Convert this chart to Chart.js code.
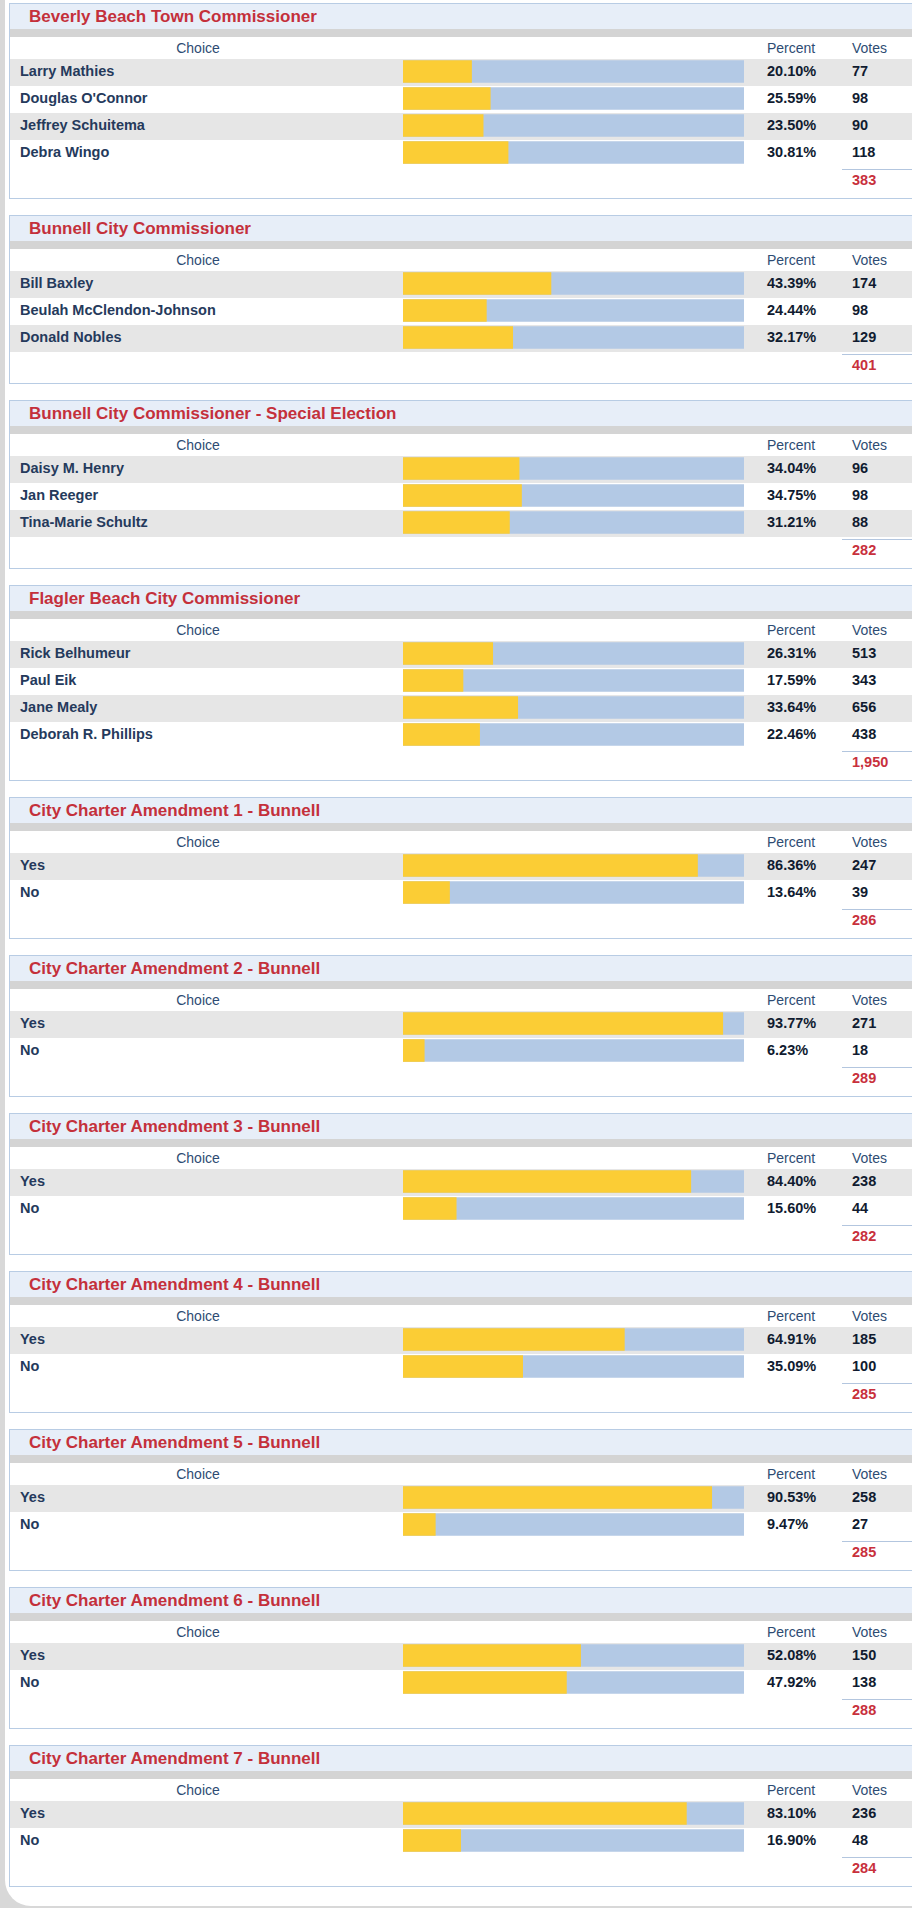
<!DOCTYPE html>
<html>
<head>
<meta charset="utf-8">
<script src="https://cdn.jsdelivr.net/npm/chart.js@4.4.1/dist/chart.umd.min.js"></script>
<style>
  html, body { margin:0; padding:0; }
  body { width:912px; height:1908px; overflow:hidden; position:relative; background:#d8d8d8;
         font-family:"Liberation Sans", Arial, sans-serif; }
  #page { position:absolute; left:5px; top:0; width:1000px; height:1906px; background:#fff;
          border-bottom-left-radius:26px; }
  .panel { position:absolute; left:9px; width:940px; border:1px solid #b8cce4; background:#fff; box-sizing:content-box; }
  .ttl { position:absolute; left:0; top:0; right:0; height:25px; background:#e7eef8;
         color:#c4303b; font-weight:bold; font-size:17px; line-height:25px; padding-left:19px; white-space:nowrap; }
  .band { position:absolute; left:0; top:25px; right:0; height:8px; background:#d4d4d4; }
  .hdr { position:absolute; left:0; top:33px; right:0; height:22px; color:#2e4c73; font-size:14px; line-height:22px; }
  .hdr span { position:absolute; top:0; }
  .row { position:absolute; left:0; right:0; height:27px; font-size:14.5px; font-weight:bold; line-height:24px; }
  .row span { position:absolute; top:0; white-space:nowrap; }
  .row.alt { background:#e6e6e6; }
  .lbl { left:10px; color:#253a5c; }
  .pct { left:757px; color:#101b30; }
  .vot { left:842px; color:#101b30; }
  .tline { position:absolute; left:832px; right:0; height:1px; background:#b3c6df; }
  .tot { position:absolute; left:842px; color:#c8303c; font-weight:bold; font-size:14.5px; line-height:20px; }
  canvas { position:absolute; }
</style>
</head>
<body>
<div id="page"></div>
<script>
const titles = [
  "Beverly Beach Town Commissioner",
  "Bunnell City Commissioner",
  "Bunnell City Commissioner - Special Election",
  "Flagler Beach City Commissioner",
  "City Charter Amendment 1 - Bunnell",
  "City Charter Amendment 2 - Bunnell",
  "City Charter Amendment 3 - Bunnell",
  "City Charter Amendment 4 - Bunnell",
  "City Charter Amendment 5 - Bunnell",
  "City Charter Amendment 6 - Bunnell",
  "City Charter Amendment 7 - Bunnell"
];
const choices = [
  ["Larry Mathies", "Douglas O'Connor", "Jeffrey Schuitema", "Debra Wingo"],
  ["Bill Baxley", "Beulah McClendon-Johnson", "Donald Nobles"],
  ["Daisy M. Henry", "Jan Reeger", "Tina-Marie Schultz"],
  ["Rick Belhumeur", "Paul Eik", "Jane Mealy", "Deborah R. Phillips"],
  ["Yes", "No"],
  ["Yes", "No"],
  ["Yes", "No"],
  ["Yes", "No"],
  ["Yes", "No"],
  ["Yes", "No"],
  ["Yes", "No"]
];
const percents = [
  [20.10, 25.59, 23.50, 30.81],
  [43.39, 24.44, 32.17],
  [34.04, 34.75, 31.21],
  [26.31, 17.59, 33.64, 22.46],
  [86.36, 13.64],
  [93.77, 6.23],
  [84.40, 15.60],
  [64.91, 35.09],
  [90.53, 9.47],
  [52.08, 47.92],
  [83.10, 16.90]
];
const votes = [
  [77, 98, 90, 118],
  [174, 98, 129],
  [96, 98, 88],
  [513, 343, 656, 438],
  [247, 39],
  [271, 18],
  [238, 44],
  [185, 100],
  [258, 27],
  [150, 138],
  [236, 48]
];
const totals = [383, 401, 282, 1950, 286, 289, 282, 285, 285, 288, 284];
const headers = ["Choice", "Percent", "Votes"];
const SCALE_MAX = 100;

const host = document.body;
let yPos = 3;
titles.forEach((title, i) => {
  const n = choices[i].length;
  const h = 86 + 27 * n; // inner height
  const panel = document.createElement('div');
  panel.className = 'panel';
  panel.style.top = yPos + 'px';
  panel.style.height = h + 'px';
  host.appendChild(panel);

  const t = document.createElement('div'); t.className = 'ttl'; t.textContent = title; panel.appendChild(t);
  const b = document.createElement('div'); b.className = 'band'; panel.appendChild(b);
  const hd = document.createElement('div'); hd.className = 'hdr';
  hd.innerHTML = '<span style="left:0;width:376px;text-align:center">' + headers[0] + '</span>' +
                 '<span style="left:757px">' + headers[1] + '</span>' +
                 '<span style="left:842px">' + headers[2] + '</span>';
  panel.appendChild(hd);

  const rowsTop = 55;
  choices[i].forEach((c, k) => {
    const r = document.createElement('div');
    r.className = 'row' + (k % 2 === 0 ? ' alt' : '');
    r.style.top = (rowsTop + 27 * k) + 'px';
    const l = document.createElement('span'); l.className = 'lbl'; l.textContent = c; r.appendChild(l);
    const p = document.createElement('span'); p.className = 'pct'; p.textContent = percents[i][k].toFixed(2) + '%'; r.appendChild(p);
    const v = document.createElement('span'); v.className = 'vot'; v.textContent = votes[i][k].toLocaleString('en-US'); r.appendChild(v);
    panel.appendChild(r);
  });
  const rowsEnd = rowsTop + 27 * n;
  const ln = document.createElement('div'); ln.className = 'tline'; ln.style.top = (rowsEnd + 2) + 'px'; panel.appendChild(ln);
  const tt = document.createElement('div'); tt.className = 'tot'; tt.style.top = (rowsEnd + 3) + 'px';
  tt.textContent = totals[i].toLocaleString('en-US'); panel.appendChild(tt);

  const cv = document.createElement('canvas');
  cv.width = 341; cv.height = 27 * n;
  cv.style.left = '393px'; cv.style.top = (rowsTop - 1) + 'px';
  cv.style.width = '341px'; cv.style.height = (27 * n) + 'px';
  panel.appendChild(cv);

  new Chart(cv, {
    type: 'bar',
    data: {
      labels: choices[i],
      datasets: [
        { data: percents[i], backgroundColor: '#fbcd35', grouped: false, order: 0, barThickness: 22 },
        { data: choices[i].map(() => SCALE_MAX), backgroundColor: '#b3c9e5', grouped: false, order: 1, barThickness: 22 }
      ]
    },
    options: {
      indexAxis: 'y', responsive: false, animation: false, devicePixelRatio: 1,
      layout: { padding: 0 },
      scales: {
        x: { display: false, min: 0, max: SCALE_MAX },
        y: { display: false }
      },
      plugins: { legend: { display: false }, tooltip: { enabled: false } }
    }
  });

  yPos += h + 2 + 16;
});
</script>
</body>
</html>
